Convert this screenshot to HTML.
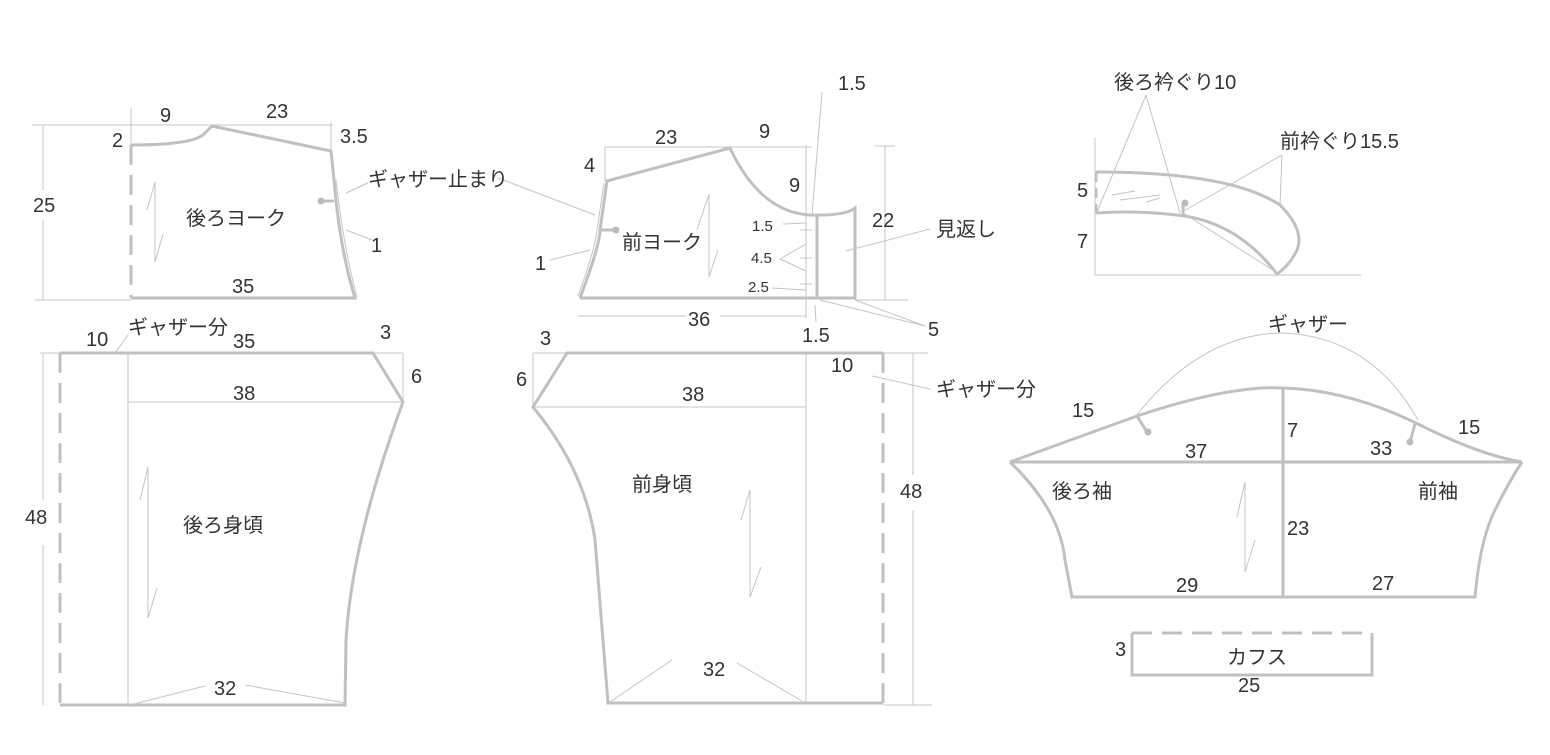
<!DOCTYPE html>
<html><head><meta charset="utf-8"><style>
html,body{margin:0;padding:0;background:#fff;}
svg{display:block}
text{font-family:"Liberation Sans","Noto Sans CJK JP",sans-serif;fill:#333;font-size:20px}
.k{fill:none;stroke:#c0c0c0;stroke-width:3}
.t{fill:none;stroke:#c4c4c4;stroke-width:1}
.d{fill:none;stroke:#c0c0c0;stroke-width:3;stroke-dasharray:20 10}
</style></head><body>
<svg width="1550" height="755" viewBox="0 0 1550 755">
<!-- back yoke -->
<line class="t" x1="32" y1="125" x2="333" y2="125"/>
<line class="t" x1="43" y1="125" x2="43" y2="190"/><line class="t" x1="43" y1="220" x2="43" y2="300"/>
<line class="t" x1="35" y1="300" x2="131" y2="300"/>
<line class="t" x1="131" y1="108" x2="131" y2="145"/>
<line class="t" x1="331" y1="122" x2="331" y2="150"/>
<path class="d" d="M131 145 V298"/>
<path class="k" d="M131 145 Q195 145 205 133 L212 126 L331 151 L334 180 Q340 250 355 298 L131 298"/>
<path class="t" d="M336 180 Q344 250 357 297"/>
<line class="k" x1="321" y1="201" x2="334" y2="201"/><circle cx="321" cy="201" r="3.5" fill="#bbb"/>
<line class="t" x1="346" y1="193" x2="368" y2="183"/>
<line class="t" x1="498" y1="178" x2="595" y2="215"/>
<line class="t" x1="346" y1="230" x2="372" y2="240"/>
<path class="t" d="M155 182 L147 210 M155 182 V262 L163 234"/>
<text x="160" y="122">9</text><text x="266" y="118">23</text><text x="112" y="147">2</text>
<text x="340" y="143">3.5</text><text x="33" y="212">25</text><text x="186" y="225">後ろヨーク</text>
<text x="368" y="186">ギャザー止まり</text><text x="371" y="252">1</text><text x="232" y="293">35</text>
<!-- back bodice -->
<line class="t" x1="40" y1="353" x2="60" y2="353"/>
<line class="t" x1="43" y1="353" x2="43" y2="500"/><line class="t" x1="43" y1="545" x2="43" y2="705"/>
<path class="d" d="M60 353 V705"/>
<path class="k" d="M60 353 H373 L403 402 Q352 540 346 640 L345 705 H60"/>
<line class="t" x1="128" y1="353" x2="128" y2="705"/>
<line class="t" x1="128" y1="402" x2="403" y2="402"/>
<line class="t" x1="373" y1="353" x2="403" y2="353"/><line class="t" x1="403" y1="353" x2="403" y2="402"/>
<line class="t" x1="115" y1="353" x2="128" y2="335"/>
<path class="t" d="M148 467 L140 500 M148 467 V618 L157 588"/>
<line class="t" x1="130" y1="705" x2="205" y2="686"/><line class="t" x1="245" y1="685" x2="345" y2="703"/>
<text x="86" y="346">10</text><text x="128" y="334">ギャザー分</text><text x="233" y="348">35</text>
<text x="380" y="339">3</text><text x="411" y="383">6</text><text x="233" y="400">38</text>
<text x="25" y="524">48</text><text x="183" y="532">後ろ身頃</text><text x="214" y="695">32</text>
<!-- front yoke -->
<line class="t" x1="605" y1="147" x2="812" y2="147"/>
<line class="t" x1="605" y1="147" x2="605" y2="181"/>
<line class="t" x1="806" y1="145" x2="806" y2="318"/>
<line class="t" x1="875" y1="146" x2="895" y2="146"/>
<line class="t" x1="885" y1="146" x2="885" y2="300"/>
<line class="t" x1="855" y1="300" x2="908" y2="300"/>
<line class="t" x1="578" y1="316" x2="686" y2="316"/><line class="t" x1="720" y1="316" x2="806" y2="316"/>
<path class="k" d="M580 298 Q600 245 600 230 L607 181 L730 148 Q760 212 810 215 Q845 216 855 208 V298 H580"/>
<line class="k" x1="817" y1="216" x2="817" y2="298"/>
<path class="t" d="M578 296 Q595 250 597 230 L604 183"/>
<line class="k" x1="600" y1="230" x2="616" y2="230"/><circle cx="616" cy="230" r="3.5" fill="#bbb"/>
<line class="t" x1="822" y1="92" x2="812" y2="215"/>
<line class="t" x1="783" y1="224" x2="806" y2="223"/>
<line class="t" x1="780" y1="259" x2="806" y2="244"/><line class="t" x1="780" y1="259" x2="806" y2="271"/>
<line class="t" x1="772" y1="288" x2="806" y2="290"/>
<line class="t" x1="800" y1="230" x2="812" y2="230"/><line class="t" x1="800" y1="258" x2="812" y2="258"/><line class="t" x1="800" y1="284" x2="812" y2="284"/>
<line class="t" x1="815" y1="305" x2="816" y2="322"/>
<line class="t" x1="820" y1="300" x2="925" y2="326"/><line class="t" x1="855" y1="300" x2="925" y2="326"/>
<line class="t" x1="846" y1="251" x2="930" y2="229"/>
<line class="t" x1="550" y1="260" x2="590" y2="250"/>
<path class="t" d="M709 194 L697 230 M709 194 V277 L718 250"/>
<text x="655" y="144">23</text><text x="759" y="138">9</text><text x="584" y="172">4</text>
<text x="838" y="90">1.5</text><text x="789" y="192">9</text><text x="872" y="227">22</text>
<text x="622" y="249">前ヨーク</text><text x="936" y="236">見返し</text><text x="535" y="270">1</text>
<text x="752" y="231" style="font-size:15px">1.5</text><text x="751" y="263" style="font-size:15px">4.5</text><text x="748" y="292" style="font-size:15px">2.5</text>
<text x="688" y="326">36</text><text x="802" y="342">1.5</text><text x="928" y="336">5</text>
<!-- front bodice -->
<line class="t" x1="533" y1="353" x2="567" y2="353"/><line class="t" x1="533" y1="353" x2="533" y2="407"/>
<line class="t" x1="883" y1="353" x2="928" y2="353"/>
<line class="t" x1="913" y1="353" x2="913" y2="475"/><line class="t" x1="913" y1="510" x2="913" y2="705"/>
<line class="t" x1="883" y1="705" x2="932" y2="705"/>
<path class="d" d="M883 353 V703"/>
<path class="k" d="M883 353 H567 L533 407 Q585 470 595 540 Q600 600 608 703 H883"/>
<line class="t" x1="806" y1="353" x2="806" y2="703"/>
<line class="t" x1="533" y1="407" x2="806" y2="407"/>
<line class="t" x1="872" y1="376" x2="930" y2="389"/>
<path class="t" d="M750 490 L741 520 M750 490 V597 L761 567"/>
<line class="t" x1="610" y1="702" x2="672" y2="660"/><line class="t" x1="737" y1="663" x2="802" y2="701"/>
<text x="540" y="345">3</text><text x="516" y="386">6</text><text x="831" y="372">10</text>
<text x="936" y="396">ギャザー分</text><text x="682" y="401">38</text><text x="632" y="491">前身頃</text>
<text x="900" y="498">48</text><text x="703" y="676">32</text>
<!-- collar -->
<line class="t" x1="1095" y1="138" x2="1095" y2="275"/>
<line class="t" x1="1095" y1="275" x2="1361" y2="275"/>
<path class="d" d="M1096 172 V213" style="stroke-dasharray:10 6"/>
<path class="k" d="M1096 172 Q1230 172 1280 205 Q1305 230 1297 250 Q1290 265 1277 274 Q1240 225 1185 216 Q1140 210 1096 213"/>
<line class="t" x1="1097" y1="212" x2="1146" y2="95"/><line class="t" x1="1146" y1="95" x2="1180" y2="213"/>
<line class="t" x1="1182" y1="212" x2="1282" y2="155"/><line class="t" x1="1282" y1="155" x2="1280" y2="205"/>
<line class="t" x1="1183" y1="213" x2="1276" y2="272"/>
<line class="k" x1="1183" y1="203" x2="1183" y2="215"/><circle cx="1185" cy="203" r="3.5" fill="#bbb"/>
<path class="t" d="M1112 195 L1135 191 M1120 200 L1160 195 M1146 202 L1160 198"/>
<text x="1114" y="89">後ろ衿ぐり10</text><text x="1280" y="148">前衿ぐり15.5</text>
<text x="1077" y="197">5</text><text x="1077" y="248">7</text>
<!-- sleeve -->
<path class="k" d="M1010 462 L1137 416 Q1230 385 1283 388 Q1350 390 1420 425 Q1480 455 1522 462"/>
<line class="k" x1="1010" y1="462" x2="1522" y2="462"/>
<line class="k" x1="1283" y1="388" x2="1283" y2="597"/>
<path class="k" d="M1010 462 Q1060 510 1065 560 L1072 597 H1475 Q1480 540 1495 510 Q1510 480 1522 462"/>
<path class="t" d="M1136 416 Q1200 335 1280 333 Q1370 335 1418 420"/>
<line class="k" x1="1137" y1="416" x2="1147" y2="432"/><circle cx="1148" cy="432" r="3.5" fill="#bbb"/>
<line class="k" x1="1415" y1="424" x2="1410" y2="442"/><circle cx="1410" cy="442" r="3.5" fill="#bbb"/>
<path class="t" d="M1245 482 L1237 517 M1245 482 V572 L1255 540"/>
<text x="1268" y="331">ギャザー</text><text x="1072" y="417">15</text><text x="1458" y="434">15</text>
<text x="1287" y="437">7</text><text x="1185" y="458">37</text><text x="1370" y="455">33</text>
<text x="1052" y="498">後ろ袖</text><text x="1418" y="498">前袖</text><text x="1287" y="535">23</text>
<text x="1176" y="592">29</text><text x="1372" y="590">27</text>
<!-- cuff -->
<path class="k" d="M1132 633 V675 H1372 V633"/>
<path class="d" d="M1132 633 H1372"/>
<text x="1115" y="656">3</text><text x="1227" y="664">カフス</text><text x="1238" y="692">25</text>
</svg>
</body></html>
